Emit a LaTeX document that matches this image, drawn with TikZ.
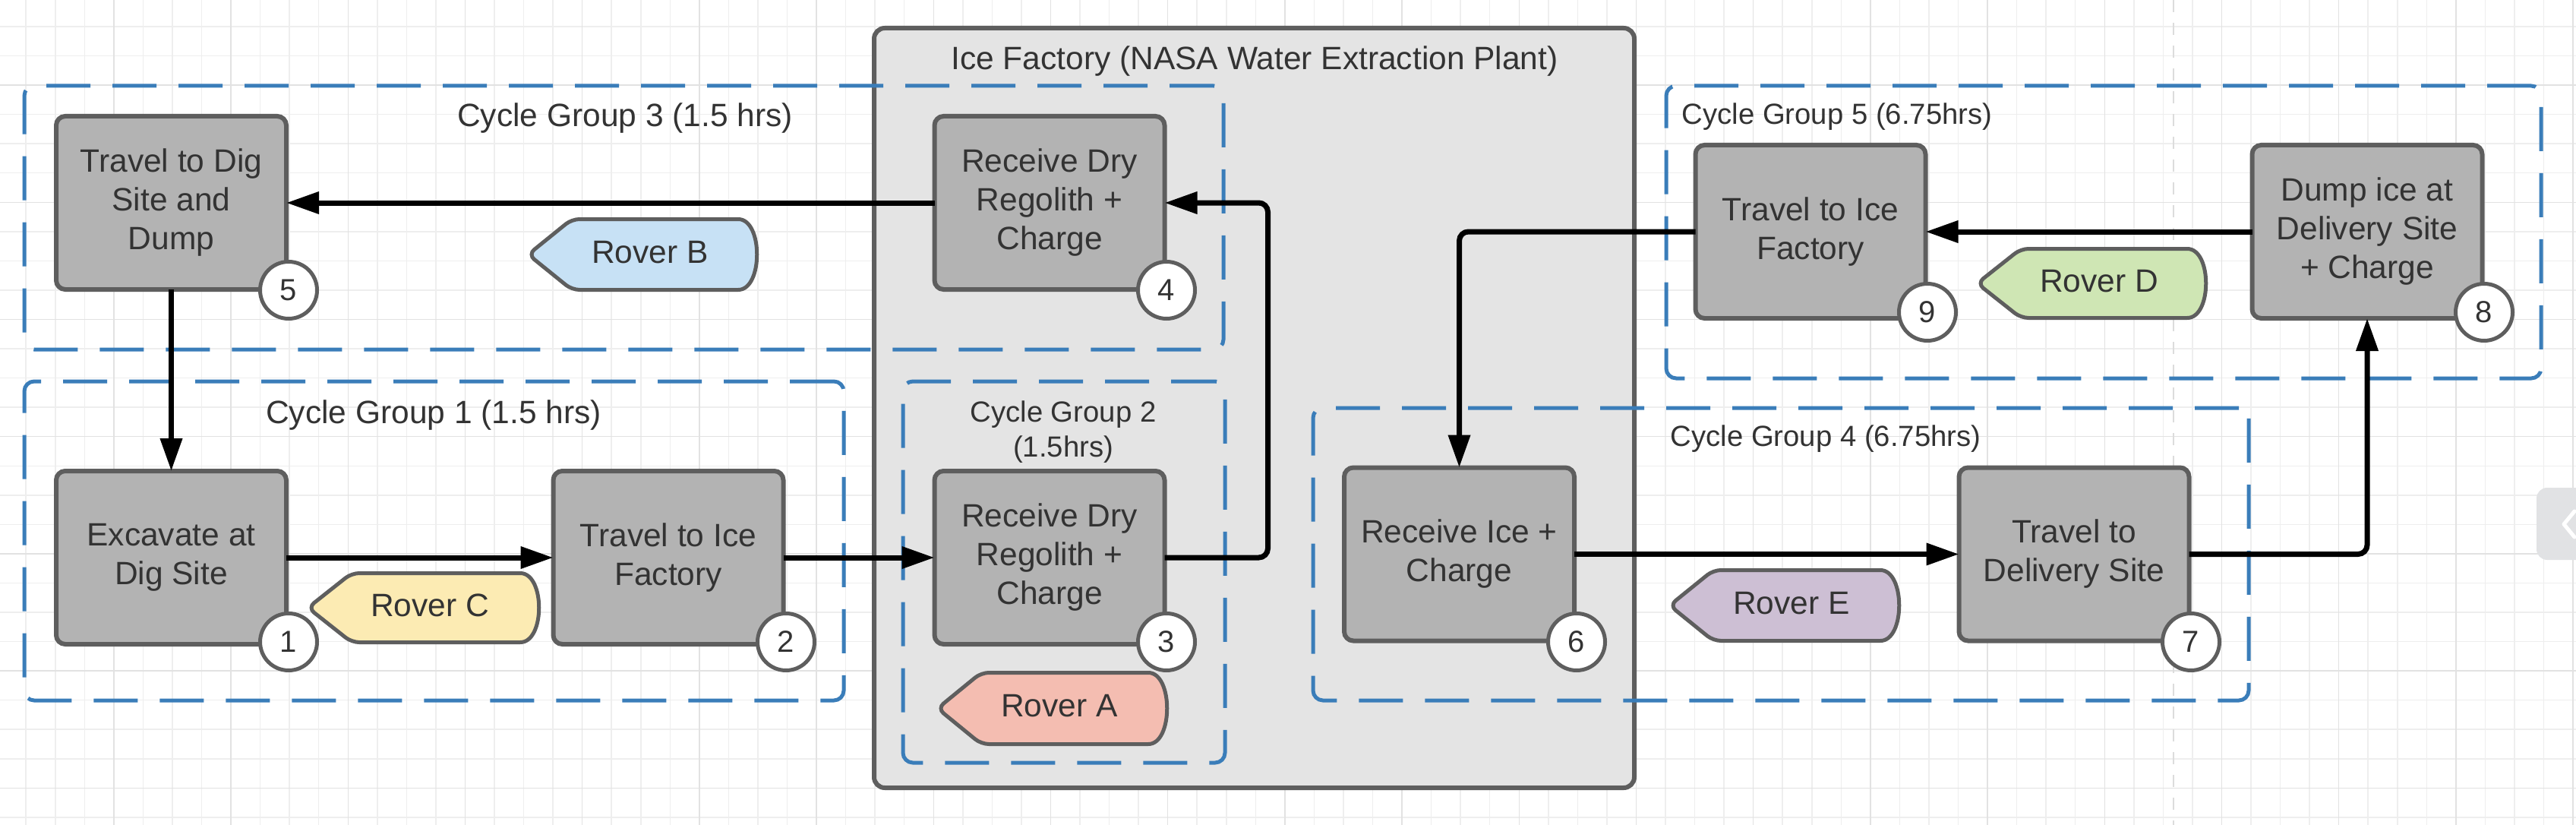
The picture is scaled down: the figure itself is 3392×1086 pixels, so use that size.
\documentclass[tikz,border=0pt]{standalone}
\usepackage{fontspec}
\setmainfont{Liberation Sans}
\usetikzlibrary{arrows.meta}
\definecolor{boxfill}{HTML}{B3B3B3}
\definecolor{boxline}{HTML}{5E5E5E}
\definecolor{factfill}{HTML}{E4E4E4}
\definecolor{grpblue}{HTML}{3A7DB9}
\definecolor{txt}{HTML}{333333}
\definecolor{gridminor}{HTML}{EEEEEE}
\definecolor{gridmajor}{HTML}{E2E2E2}
\definecolor{pagebreak}{HTML}{DCDCDC}
\definecolor{tabfill}{HTML}{E1E2E4}
\definecolor{roverA}{HTML}{F4BDB1}
\definecolor{roverB}{HTML}{C7E1F5}
\definecolor{roverC}{HTML}{FCEBB3}
\definecolor{roverD}{HTML}{CFE6B4}
\definecolor{roverE}{HTML}{CDBFD4}
\newcommand\myfontbig{\fontsize{42.5}{51}\selectfont}
\newcommand\myfontsmall{\fontsize{38.3}{46}\selectfont}
\newcommand\myfontnum{\fontsize{40}{48}\selectfont}
\newcommand\drawrover[7]{%
  \draw[roverline, fill=#6] ({#2+2.5},{(#3+#5)/2}) -- ({#2+60},{#3+2.5}) -- ({#4-34},{#3+2.5})
    .. controls ({#4+9},{#3+2.5}) and ({#4+9},{#5-2.5}) .. ({#4-34},{#5-2.5})
    -- ({#2+60},{#5-2.5}) -- cycle;
  \node[rovertext] (#1) at ({#2+163},{(#3+#5)/2-3}) {#7};}
\begin{document}
\begin{tikzpicture}[x=1pt,y=-1pt,
  procbox/.style={draw=boxline, fill=boxfill, line width=6pt, rounded corners=12pt,
    minimum width=303pt, minimum height=228pt, inner sep=0pt, outer sep=0pt,
    align=center, text=txt, font=\myfontbig},
  numcirc/.style={circle, draw=boxline, fill=white, line width=5pt, minimum size=75pt,
    inner sep=0pt, text=txt, font=\myfontnum},
  group/.style={draw=grpblue, line width=5pt, dash pattern=on 58pt off 29pt,
    rounded corners=13pt, inner sep=0pt, outer sep=0pt},
  grplabel/.style={text=txt, font=\myfontbig, align=center, inner sep=0pt},
  grplabelsmall/.style={text=txt, font=\myfontsmall, align=center, inner sep=0pt},
  factory/.style={draw=boxline, fill=factfill, line width=6pt, rounded corners=14pt,
    inner sep=0pt, outer sep=0pt},
  roverline/.style={draw=boxline, line width=5pt, rounded corners=10pt},
  rovertext/.style={text=txt, font=\myfontbig, inner sep=0pt},
  arr/.style={draw=black, line width=7pt, -{Triangle[length=43pt,width=28pt]}},
  gridl/.style={draw=gridminor, line width=1.5pt},
  gridm/.style={draw=gridmajor, line width=1.5pt}
]
\useasboundingbox (0,0) rectangle (3392,1086);
\fill[white] (0,0) rectangle (3392,1086);
% grid
\foreach \k in {0,...,87} { \draw[gridl] ({34.2+38.55*\k},0) -- ({34.2+38.55*\k},1086); }
\foreach \k in {0,...,27} { \draw[gridl] (0,{35+38.55*\k}) -- (3392,{35+38.55*\k}); }
\foreach \k in {3,7,...,87} { \draw[gridm] ({34.2+38.55*\k},0) -- ({34.2+38.55*\k},1086); }
\foreach \k in {2,6,...,26} { \draw[gridm] (0,{35+38.55*\k}) -- (3392,{35+38.55*\k}); }
% page break line
\draw[pagebreak, line width=2.5pt, dash pattern=on 16pt off 14pt] (2862,0) -- (2862,1086);
% side tab
\fill[tabfill, rounded corners=14pt] (3340,642) rectangle (3410,737);
\draw[white, line width=5pt, line cap=round, line join=round] (3390,673) -- (3376,690) -- (3390,707);

% ice factory
\node[factory, minimum width=1001pt, minimum height=1000pt] (fact) at (1651.5,537) {};
\node[grplabel] (facttitle) at (1652,81) {Ice Factory (NASA Water Extraction Plant)};

% cycle groups
\node[group, minimum width=1579pt, minimum height=347pt] (cg3) at (821.5,286.5) {};
\node[group, minimum width=1079pt, minimum height=420pt] (cg1) at (571.5,712) {};
\node[group, minimum width=424pt, minimum height=502pt] (cg2) at (1401,753) {};
\node[group, minimum width=1232pt, minimum height=385pt] (cg4) at (2345,729.5) {};
\node[group, minimum width=1152pt, minimum height=385pt] (cg5) at (2770,305.5) {};
\node[grplabel] (cg3l) at (823,156) {Cycle Group 3 (1.5 hrs)};
\node[grplabel] (cg1l) at (571,547) {Cycle Group 1 (1.5 hrs)};
\node[grplabelsmall] (cg2l) at (1400,569) {Cycle Group 2\\(1.5hrs)};
\node[grplabelsmall] (cg4l) at (2404,578) {Cycle Group 4 (6.75hrs)};
\node[grplabelsmall] (cg5l) at (2419,154) {Cycle Group 5 (6.75hrs)};

% process boxes
\node[procbox] (b5) at (225.5,267) {Travel to Dig\\Site and\\Dump};
\node[procbox] (b1) at (225.5,734) {Excavate at\\Dig Site};
\node[procbox] (b2) at (880,734) {Travel to Ice\\Factory};
\node[procbox] (b3) at (1382,734) {Receive Dry\\Regolith +\\Charge};
\node[procbox] (b4) at (1382,267) {Receive Dry\\Regolith +\\Charge};
\node[procbox] (b6) at (1921.5,729.5) {Receive Ice +\\Charge};
\node[procbox] (b7) at (2731,729.5) {Travel to\\Delivery Site};
\node[procbox] (b9) at (2384,305) {Travel to Ice\\Factory};
\node[procbox] (b8) at (3117,305) {Dump ice at\\Delivery Site\\+ Charge};

% connectors
\draw[arr] (b1.east) -- (b2.west);
\draw[arr] (b2.east) -- (b3.west);
\draw[arr, rounded corners=12pt] (b3.east) -- ([xshift=136pt]b3.east) |- (b4.east);
\draw[arr] (b4.west) -- (b5.east);
\draw[arr] (b5.south) -- (b1.north);
\draw[arr] (b6.east) -- (b7.west);
\draw[arr, rounded corners=12pt] (b7.east) -| (b8.south);
\draw[arr] (b8.west) -- (b9.east);
\draw[arr, rounded corners=12pt] (b9.west) -| (b6.north);

% number circles
\node[numcirc] (n5) at (380,382) {5};
\node[numcirc] (n1) at (380,845) {1};
\node[numcirc] (n2) at (1035,845) {2};
\node[numcirc] (n3) at (1536,845) {3};
\node[numcirc] (n4) at (1536,382) {4};
\node[numcirc] (n6) at (2076,845) {6};
\node[numcirc] (n7) at (2885,845) {7};
\node[numcirc] (n9) at (2538,411) {9};
\node[numcirc] (n8) at (3271,411) {8};

% rovers
\drawrover{rovB}{693}{286}{996}{384}{roverB}{Rover B}
\drawrover{rovC}{403}{752}{709}{848}{roverC}{Rover C}
\drawrover{rovA}{1232}{883}{1536}{982}{roverA}{Rover A}
\drawrover{rovD}{2601}{325}{2904}{421}{roverD}{Rover D}
\drawrover{rovE}{2196}{748}{2500}{846}{roverE}{Rover E}
\end{tikzpicture}
\end{document}
